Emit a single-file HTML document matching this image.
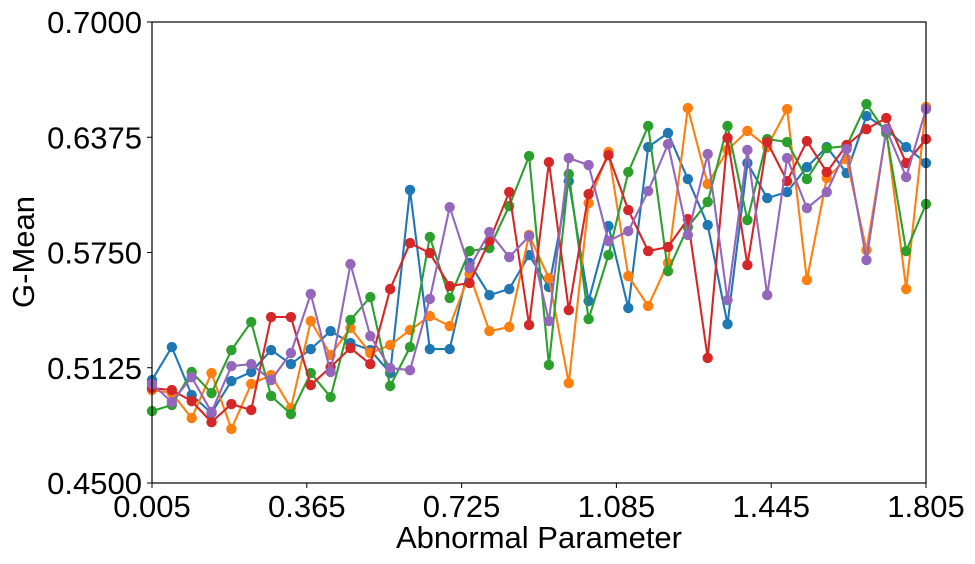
<!DOCTYPE html>
<html><head><meta charset="utf-8"><style>
html,body{margin:0;padding:0;background:#fff;}
svg{display:block;font-family:"Liberation Sans","DejaVu Sans",sans-serif;}
</style></head><body>
<svg id="chart" width="975" height="564" viewBox="0 0 975 564" xmlns="http://www.w3.org/2000/svg">
<g id="series"></g>
<rect x="152" y="22" width="774" height="461" fill="none" stroke="#000" stroke-width="1.2"/>
<g id="axes"></g>
<text x="539" y="548" font-size="31" text-anchor="middle">Abnormal Parameter</text>
<text transform="translate(34,252) rotate(-90)" font-size="31" text-anchor="middle">G-Mean</text>
</svg>
<script>
const xTicks = [0.005, 0.365, 0.725, 1.085, 1.445, 1.805];
const xTickLabels = ["0.005", "0.365", "0.725", "1.085", "1.445", "1.805"];
const yTicks = [0.45, 0.5125, 0.575, 0.6375, 0.70];
const yTickLabels = ["0.4500", "0.5125", "0.5750", "0.6375", "0.7000"];
const nPoints = 40;
const seriesNames = ["series-1", "series-2", "series-3", "series-4", "series-5"];
const seriesColors = ["#1f77b4", "#ff7f0e", "#2ca02c", "#d62728", "#9467bd"];
const s1 = [0.5058,0.5237,0.4977,0.4879,0.5053,0.5102,0.5221,0.5145,0.5226,0.5324,0.5259,0.5221,0.5096,0.6089,0.5226,0.5226,0.5693,0.5519,0.5552,0.5736,0.5563,0.6137,0.5487,0.5893,0.5449,0.6322,0.6398,0.6148,0.5899,0.5362,0.6235,0.6045,0.6078,0.6213,0.6322,0.6181,0.6490,0.6419,0.6322,0.6235];
const s2 = [0.5004,0.4988,0.4852,0.5096,0.4793,0.5037,0.5085,0.4906,0.5378,0.5194,0.5340,0.5205,0.5248,0.5329,0.5405,0.5351,0.5633,0.5324,0.5346,0.5845,0.5611,0.5042,0.6018,0.6295,0.5622,0.5460,0.5693,0.6533,0.6121,0.6306,0.6409,0.6322,0.6528,0.5601,0.6154,0.6257,0.5763,0.6409,0.5552,0.6539];
const s3 = [0.4890,0.4923,0.5102,0.4988,0.5221,0.5373,0.4972,0.4874,0.5096,0.4966,0.5384,0.5508,0.5026,0.5237,0.5834,0.5503,0.5758,0.5774,0.6002,0.6273,0.5140,0.6175,0.5389,0.5736,0.6186,0.6436,0.5649,0.5888,0.6024,0.6436,0.5926,0.6365,0.6349,0.6148,0.6316,0.6327,0.6555,0.6398,0.5758,0.6013];
const s4 = [0.5015,0.5004,0.4944,0.4830,0.4928,0.4896,0.5400,0.5400,0.5031,0.5129,0.5232,0.5145,0.5552,0.5801,0.5747,0.5568,0.5584,0.5812,0.6078,0.5357,0.6240,0.5438,0.6067,0.6278,0.5980,0.5758,0.5780,0.5931,0.5178,0.6371,0.5682,0.6349,0.6137,0.6354,0.6186,0.6333,0.6419,0.6479,0.6235,0.6365];
const s5 = [0.5037,0.4939,0.5074,0.4885,0.5134,0.5145,0.5058,0.5205,0.5525,0.5102,0.5687,0.5297,0.5123,0.5112,0.5498,0.5996,0.5666,0.5861,0.5725,0.5839,0.5378,0.6262,0.6224,0.5812,0.5866,0.6083,0.6338,0.5845,0.6284,0.5492,0.6306,0.5519,0.6262,0.5991,0.6078,0.6311,0.5709,0.6419,0.6159,0.6528];
const allSeries = [s1, s2, s3, s4, s5];

const X0 = 152, X1 = 926, Y0 = 483, Y1 = 22;
const xMin = 0.005, xMax = 1.805, yMin = 0.45, yMax = 0.70;
function xScale(v){ return X0 + (v - xMin) / (xMax - xMin) * (X1 - X0); }
function yScale(v){ return Y0 - (v - yMin) / (yMax - yMin) * (Y0 - Y1); }
function xAt(i){ return xMin + i * (xMax - xMin) / (nPoints - 1); }
const NS = "http://www.w3.org/2000/svg";
const sg = document.getElementById("series");
allSeries.forEach(function(vals, k){
  const g = document.createElementNS(NS, "g");
  
  
  const pts = vals.map(function(v, i){ return xScale(xAt(i)).toFixed(1) + "," + yScale(v).toFixed(1); }).join(" ");
  const pl = document.createElementNS(NS, "polyline");
  
  
  pl.setAttribute("points", pts);
  pl.setAttribute("fill", "none");
  pl.setAttribute("stroke", seriesColors[k]);
  pl.setAttribute("stroke-width", "2.1");
  g.appendChild(pl);
  vals.forEach(function(v, i){
    const c = document.createElementNS(NS, "circle");
    
    
    c.setAttribute("cx", xScale(xAt(i)));
    c.setAttribute("cy", yScale(v));
    c.setAttribute("r", "5.2");
    c.setAttribute("fill", seriesColors[k]);
    g.appendChild(c);
  });
  sg.appendChild(g);
});
const ax = document.getElementById("axes");
xTicks.forEach(function(t, i){
  const x = xScale(t);
  const l = document.createElementNS(NS, "line");
  
  
  l.setAttribute("x1", x); l.setAttribute("x2", x);
  l.setAttribute("y1", Y0); l.setAttribute("y2", Y0 + 5);
  l.setAttribute("stroke", "#000");
  ax.appendChild(l);
  const tx = document.createElementNS(NS, "text");
  
  
  tx.setAttribute("x", x); tx.setAttribute("y", Y0 + 34);
  tx.setAttribute("font-size", "31");
  tx.setAttribute("text-anchor", "middle");
  tx.textContent = xTickLabels[i];
  ax.appendChild(tx);
});
yTicks.forEach(function(t, i){
  const y = yScale(t);
  const l = document.createElementNS(NS, "line");
  
  
  l.setAttribute("x1", X0 - 5); l.setAttribute("x2", X0);
  l.setAttribute("y1", y); l.setAttribute("y2", y);
  l.setAttribute("stroke", "#000");
  ax.appendChild(l);
  const tx = document.createElementNS(NS, "text");
  
  
  tx.setAttribute("x", X0 - 10); tx.setAttribute("y", y + 11);
  tx.setAttribute("font-size", "31");
  tx.setAttribute("text-anchor", "end");
  tx.textContent = yTickLabels[i];
  ax.appendChild(tx);
});
</script>
</body></html>
